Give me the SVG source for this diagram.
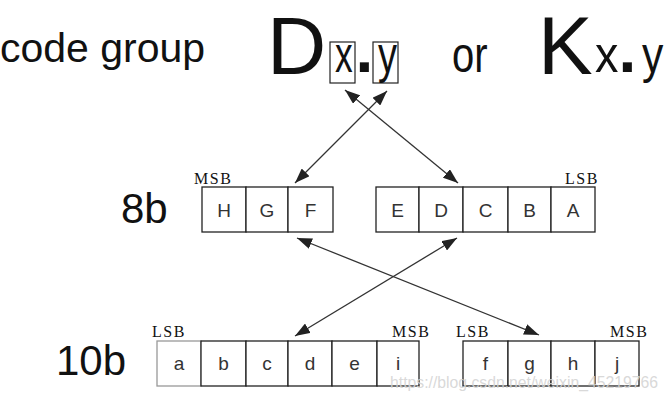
<svg xmlns="http://www.w3.org/2000/svg" width="670" height="400" viewBox="0 0 670 400">
<style>
.big{font-family:"Liberation Sans",Arial,sans-serif;fill:#111}
.cell{fill:#fff;stroke:#222;stroke-width:1.3}
.cl{font-family:"Liberation Sans",Arial,sans-serif;font-size:19px;fill:#333;text-anchor:middle}
.sb{font-family:"Liberation Serif","Times New Roman",serif;font-size:16px;fill:#111;letter-spacing:1.6px}
.ln{stroke:#333;stroke-width:1.3;fill:none;marker-start:url(#ah);marker-end:url(#ah)}
.sq{fill:none;stroke:#222;stroke-width:1.2}
</style>
<defs>
<marker id="ah" markerUnits="userSpaceOnUse" markerWidth="16" markerHeight="11" refX="15" refY="5.5" orient="auto-start-reverse" viewBox="0 0 16 11">
<path d="M0,0 L15,5.5 L0,11 z" fill="#222"/>
</marker>
</defs>
<rect width="670" height="400" fill="#fff"/>
<g id="title">
<text class="big" x="0" y="62" font-size="41">code group</text>
<text class="big" x="267" y="74" font-size="82">D</text>
<rect class="sq" x="330" y="42" width="25" height="41"/>
<text class="big" font-size="52" transform="translate(335,72) scale(0.68,1)">x</text>
<text class="big" x="355.5" y="72" font-size="64" font-weight="bold">.</text>
<rect class="sq" x="373" y="42" width="25" height="41"/>
<text class="big" font-size="52" transform="translate(378,72) scale(0.73,1)">y</text>
<text class="big" font-size="50" transform="translate(452,72) scale(0.8,1)">or</text>
<text class="big" x="538" y="74" font-size="82">K</text>
<text class="big" font-size="52" transform="translate(595,72) scale(0.9,1)">x</text>
<text class="big" x="618.5" y="72" font-size="64" font-weight="bold">.</text>
<text class="big" font-size="52" transform="translate(642,72) scale(0.82,1)">y</text>
</g>
<g id="row8b">
<text class="big" x="121" y="223" font-size="42" fill="#222">8b</text>
<g id="hgf">
<rect class="cell" x="202" y="187" width="44" height="45"/>
<rect class="cell" x="246" y="187" width="42" height="45"/>
<rect class="cell" x="288" y="187" width="45" height="45"/>
<text class="cl" x="224" y="217">H</text>
<text class="cl" x="267" y="217">G</text>
<text class="cl" x="310.5" y="217">F</text>
<text class="sb" x="194" y="184">MSB</text>
</g>
<g id="edcba">
<rect class="cell" x="376" y="187" width="43" height="45"/>
<rect class="cell" x="419" y="187" width="44" height="45"/>
<rect class="cell" x="463" y="187" width="45" height="45"/>
<rect class="cell" x="508" y="187" width="43" height="45"/>
<rect class="cell" x="551" y="187" width="44" height="45"/>
<text class="cl" x="397.5" y="217">E</text>
<text class="cl" x="441" y="217">D</text>
<text class="cl" x="485.5" y="217">C</text>
<text class="cl" x="529.5" y="217">B</text>
<text class="cl" x="573" y="217">A</text>
<text class="sb" x="565" y="184">LSB</text>
</g>
</g>
<g id="row10b">
<text class="big" x="56" y="375" font-size="42" fill="#222">10b</text>
<g id="abcdei">
<rect class="cell" x="157" y="341" width="44" height="45" style="stroke:#999"/>
<rect class="cell" x="201" y="341" width="45" height="45"/>
<rect class="cell" x="246" y="341" width="42" height="45"/>
<rect class="cell" x="288" y="341" width="44" height="45"/>
<rect class="cell" x="332" y="341" width="45" height="45"/>
<rect class="cell" x="377" y="341" width="42" height="45"/>
<text class="cl" x="179" y="370">a</text>
<text class="cl" x="223.5" y="370">b</text>
<text class="cl" x="267" y="370">c</text>
<text class="cl" x="310" y="370">d</text>
<text class="cl" x="354.5" y="370">e</text>
<text class="cl" x="398" y="370">i</text>
<text class="sb" x="152" y="337">LSB</text>
<text class="sb" x="392" y="337">MSB</text>
</g>
<g id="fghj">
<rect class="cell" x="463" y="341" width="45" height="45"/>
<rect class="cell" x="508" y="341" width="43" height="45"/>
<rect class="cell" x="551" y="341" width="44" height="45"/>
<rect class="cell" x="595" y="341" width="44" height="45"/>
<text class="cl" x="485.5" y="370">f</text>
<text class="cl" x="529.5" y="370">g</text>
<text class="cl" x="573" y="370">h</text>
<text class="cl" x="617" y="370">j</text>
<text class="sb" x="456" y="337">LSB</text>
<text class="sb" x="610" y="337">MSB</text>
</g>
</g>
<g id="connectors">
<line class="ln" x1="345" y1="90" x2="458" y2="183"/>
<line class="ln" x1="387" y1="91" x2="295" y2="183"/>
<line class="ln" x1="297" y1="238" x2="539" y2="335"/>
<line class="ln" x1="457" y1="238" x2="295" y2="336"/>
</g>
<text x="390" y="388" font-family="'Liberation Sans',Arial,sans-serif" font-size="16" fill="#d4d4d4" fill-opacity="0.9" textLength="268" lengthAdjust="spacingAndGlyphs">https://blog.csdn.net/weixin_45219766</text>
</svg>
